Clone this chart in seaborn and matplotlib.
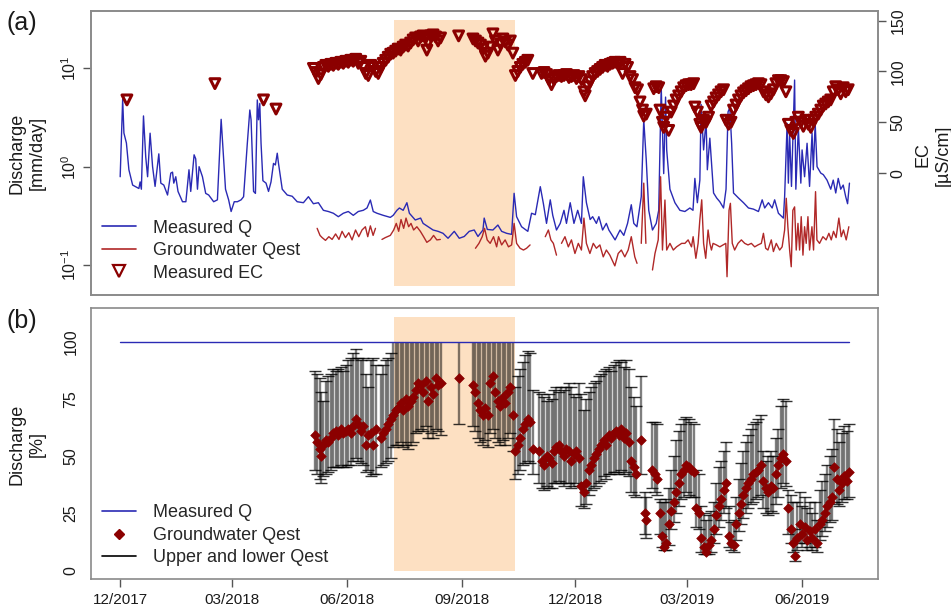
import numpy as np
import pandas as pd
import matplotlib
matplotlib.use("Agg")
import matplotlib.pyplot as plt
from matplotlib.lines import Line2D
from matplotlib.ticker import FixedLocator, NullLocator, LogFormatterSciNotation
import seaborn as sns

# ---------------- data (day 0 = 2017-12-01) ----------------
START = pd.Timestamp("2017-12-01")
tick_dates = ["2017-12-01", "2018-03-01", "2018-06-01", "2018-09-01",
              "2018-12-01", "2019-03-01", "2019-06-01"]
tick_labels = ["12/2017", "03/2018", "06/2018", "09/2018", "12/2018", "03/2019", "06/2019"]
shade_dates = ["2018-07-08", "2018-10-14"]

# Measured discharge Q [mm/day]
q_day = [0, 2, 3, 5, 7, 10, 15, 16, 17, 18.7, 20.5, 22, 24, 26, 28, 31, 32.6, 35, 38, 40.6, 42, 43, 44.6, 46.4, 50,
         52.7, 55.2, 56.6, 59.3, 60.6, 62, 63.3, 66, 68.6, 71, 75, 78, 81, 83, 84.5, 87, 89, 91.5, 94, 97, 99,
         102, 104, 105, 107, 108.5, 110, 111, 112, 113, 114.5, 117, 119, 121, 123, 124.5, 126, 127, 130, 134, 138, 142, 147,
         151, 155, 159, 163, 167, 171, 175, 179, 183, 187, 191, 195, 198, 200.7, 203, 206, 211, 216.7, 219, 222, 224, 227, 230, 232,
         236.7, 241, 243, 247, 251, 255, 259, 263, 268, 272, 276, 280, 284, 287, 291, 292, 294.5, 299, 303, 306, 310, 314, 316,
         318, 322, 327, 330, 333, 337, 339.5, 342, 345, 347, 350, 353, 356, 358, 361, 364, 367, 370, 371.5, 374, 377, 379, 382, 384, 387, 390, 392,
         397, 401, 404, 407, 410, 412, 414.5, 418, 420, 422, 424, 427, 430, 432, 434, 436, 437.5, 438.4, 441, 445,
         449, 453, 457, 459.5, 461, 463, 465, 466, 468, 470, 471, 473, 476, 478.5, 481, 484, 486, 487.6, 489, 490.5, 492, 496,
         500, 504, 508, 512, 515, 517, 520, 523, 525, 528, 532, 533, 535, 536, 537, 538.5, 541, 542, 544, 546, 547, 549, 551, 553, 555, 556, 557.5, 559, 562, 564, 567, 570, 572, 574, 576, 578, 580, 582, 583.5, 585]
q_val = [0.79, 4.85, 2.2, 1.74, 0.93, 0.65, 0.60, 0.70, 0.59, 3.28, 1.26, 0.79, 2.19, 1.0, 0.63, 1.35, 0.68, 0.65, 0.515, 0.86, 0.88, 0.68, 0.79, 0.56, 0.44,
         0.44, 0.93, 0.56, 1.32, 1.2, 0.59, 1.0, 0.79, 0.535, 0.515, 0.44, 0.46, 3.03, 1.17, 0.59, 0.46, 0.35, 0.44, 0.44, 0.46, 0.495,
         1.73, 3.77, 3.0, 0.56, 0.535, 4.77, 3.0, 4.4, 1.73, 0.72, 0.68, 0.56, 0.70, 1.08, 1.04, 1.37, 1.08, 0.59, 0.515, 0.50, 0.44, 0.43,
         0.495, 0.42, 0.43, 0.36, 0.35, 0.336, 0.31, 0.336, 0.35, 0.32, 0.35, 0.36, 0.38, 0.458, 0.35, 0.336, 0.32, 0.305, 0.32, 0.36, 0.38, 0.36, 0.43, 0.336,
         0.287, 0.30, 0.265, 0.245, 0.227, 0.22, 0.21, 0.187, 0.22, 0.187, 0.195, 0.22, 0.227, 0.195, 0.227, 0.30, 0.23, 0.227, 0.255, 0.22, 0.21, 0.205, 0.536,
         0.31, 0.245, 0.22, 0.336, 0.325, 0.626, 0.42, 0.265, 0.46, 0.32, 0.227, 0.265, 0.36, 0.265, 0.43, 0.265, 0.36, 0.265, 0.79, 0.43, 0.29, 0.31, 0.265, 0.31, 0.227, 0.265, 0.227,
         0.18, 0.227, 0.20, 0.265, 0.41, 0.265, 0.245, 0.495, 3.0, 1.17, 0.36, 0.227, 0.265, 0.36, 6.5, 0.85, 5.1, 1.48, 0.59, 0.43,
         0.36, 0.35, 0.38, 0.36, 0.76, 0.43, 0.73, 4.3, 1.48, 2.98, 0.93, 1.95, 0.54, 0.48, 0.44, 0.38, 0.59, 3.6, 4.0, 1.73, 0.54, 0.48,
         0.43, 0.38, 0.37, 0.35, 0.46, 0.38, 0.43, 0.38, 0.46, 0.336, 0.30, 0.495, 2.76, 0.68, 2.2, 0.63, 7.6, 0.59, 2.5, 0.68, 1.48, 0.79, 1.73, 0.63, 2.2, 0.93, 2.76, 1.0, 0.86, 0.83, 0.73, 0.59, 0.73, 0.54, 0.76, 0.59, 0.65, 0.495, 0.42, 0.68]

# Groundwater Qest [mm/day]; NaN marks gaps in the record
gw_day = [158, 160.3, 162, 164.7, 167.4, 170, 172.8, 175.5, 178, 180.7,
          183.4, 186, 188.8, 191.4, 194, 196.7, 198.6, 200.7, 202.9, 204.8, 207,
          210, 212.7, 216.7, 219.4, 221.5, 223.4, 225.3, 227.4, 229.3, 231.4,
          233.3, 235.4, 238, 240.8, 243.4, 246, 248.8, 251.4, 254, 256.8, 260,
          285, 287.8, 290.4, 292.3, 294.4, 296.8, 299.5, 302, 303.5, 306,
          308.8, 311.5, 314, 316, 318, 320.8, 323.5, 326, 328.8, 333,
          341, 343.5, 345.5, 347.5, 350, 352,
          354, 356.8, 359.5, 362, 364.8, 367.5, 370, 372, 374, 376.8,
          379.5, 382, 384.8, 387.5, 390, 392.8, 396.8, 399.5, 402, 404.8,
          407.5, 410, 412.8, 414.6, 416,
          418, 420, 421.7, 424,
          427, 429, 431.6, 433.5, 435, 437, 438.4, 441, 443.7, 446.3,
          450.4, 453, 455.6, 458.3, 459.6, 461.8, 463.6, 465, 466.5, 468,
          469.7, 471.6, 473, 474.3, 475.6, 478.3, 481, 483.6, 485.8, 486.8,
          488.4, 489.5, 491, 492.9, 495.6, 498.3, 501, 503.6, 506.3, 509,
          511.6, 514.3, 516, 517.8, 519.6, 522.3, 524, 526.3, 529, 531,
          533, 534.3, 535.6, 537, 538.3, 539.6, 541, 542.3, 543.7, 545,
          546.3, 547.7, 549, 550.3, 551.7, 553, 554.9, 556.2, 557.8, 558.9,
          561, 563.7, 566.3, 568.5, 570.4, 572.2, 574.3, 576.5, 578.4, 580.2,
          582.4, 584.5]
gw_val = [0.236, 0.20, 0.19, 0.178, 0.194, 0.182, 0.207, 0.182, 0.22, 0.19,
          0.213, 0.18, 0.227, 0.194, 0.227, 0.245, 0.194, 0.25, 0.20, 0.236, np.nan,
          0.182, 0.19, 0.20, 0.227, 0.265, 0.22, 0.29, 0.236, 0.30, 0.245,
          0.265, 0.227, 0.245, 0.22, 0.194, 0.17, 0.18, 0.20, 0.18, 0.182, np.nan,
          0.148, 0.166, 0.194, 0.236, 0.18, 0.166, 0.194, 0.153, 0.194, 0.16,
          0.18, 0.153, 0.16, 0.265, 0.166, 0.148, 0.142, 0.148, 0.16, np.nan,
          0.194, 0.227, 0.18, 0.166, 0.126, np.nan,
          0.166, 0.194, 0.153, 0.18, 0.131, 0.166, 0.142, 0.30, 0.166, 0.131,
          0.166, 0.148, 0.16, 0.121, 0.142, 0.126, 0.098, 0.131, 0.142, 0.121,
          0.142, 0.194, 0.121, 0.104, np.nan,
          0.166, 0.68, 0.166, np.nan,
          0.089, 0.131, 0.18, 0.79, 0.142, 0.458, 0.142, 0.166, 0.142, 0.153,
          0.166, 0.166, 0.18, 0.153, 0.194, 0.117, 0.166, 0.29, 0.46, 0.166,
          0.117, 0.227, 0.166, 0.142, 0.166, 0.16, 0.153, 0.16, 0.166, 0.076,
          0.36, 0.424, 0.166, 0.142, 0.166, 0.18, 0.166, 0.16, 0.166, 0.153,
          0.16, 0.166, 0.21, 0.148, 0.142, 0.18, 0.137, 0.166, 0.142, 0.153,
          0.227, 0.477, 0.245, 0.142, 0.096, 0.36, 0.39, 0.142, 0.265, 0.142,
          0.31, 0.126, 0.245, 0.166, 0.31, 0.142, 0.245, 0.142, 0.557, 0.18,
          0.166, 0.194, 0.18, 0.21, 0.18, 0.22, 0.19, 0.30, 0.194, 0.227,
          0.18, 0.245]

# Measured EC [uS/cm]
ec_day = [5.4, 76, 115, 125,
          155, 157, 159, 161, 163, 165, 167, 169, 171, 173,
          175, 177, 179, 181, 183, 185, 187, 189, 191, 193,
          195, 197, 199, 201, 203, 205, 207, 209, 211, 213,
          215, 217, 219, 221, 223, 225, 227, 229, 231, 233,
          235, 237, 239, 241, 243, 245, 246, 247, 249, 251,
          253, 255, 257, 271.5,
          283, 285, 287, 289, 291, 293, 295, 297, 299, 301,
          303, 305, 307, 309, 311, 313, 315, 317, 319, 321,
          323, 325, 327, 331,
          338, 340, 342, 344, 346, 348, 350, 352, 354, 356,
          358, 360, 362, 364, 366, 368, 370, 372, 373, 375,
          377, 379, 381, 383, 385, 387, 389, 391, 393, 395,
          397, 399, 401, 403, 405, 407, 409, 411, 413, 415,
          417, 419, 420, 422,
          428, 430, 432, 433, 435, 436, 438, 440, 442, 444,
          446, 448, 450, 452, 454, 456, 458, 460, 461, 463,
          465, 466, 468, 470, 472, 474, 476, 478, 480, 482,
          484, 486, 488, 490, 492, 494, 496, 498, 500, 502,
          504, 506, 508, 510, 512, 514, 516, 518, 520, 522,
          524, 526, 528, 530, 532, 534, 536, 538, 540, 542,
          544, 546, 548, 550, 552, 554, 556, 558, 560, 562,
          564, 566, 568, 570, 572, 574, 576, 578, 580, 582, 584]
ec_val = [72, 88, 72, 63,
          103, 99, 93, 97, 104, 106, 105, 107, 106, 108,
          107, 109, 108, 110, 109, 111, 110, 112, 108, 110,
          104, 98, 96, 106, 104, 100, 98, 104, 108, 111,
          114, 117, 118, 120, 122, 121, 124, 126, 125, 128,
          131, 133, 130, 134, 135, 133, 121, 128, 135, 136,
          134, 130, 133, 135,
          132, 130, 128, 126, 122, 115, 118, 124, 137, 130,
          121, 127, 132, 129, 126, 130, 118, 96, 100, 104,
          107, 109, 111, 98,
          98, 99, 97, 92, 87, 92, 95, 96, 95, 96,
          97, 94, 95, 96, 93, 95, 92, 80, 76, 85,
          90, 95, 98, 100, 102, 104, 106, 105, 107, 108,
          109, 108, 109, 98, 107, 104, 95, 92, 84, 82,
          70, 62, 56, 58,
          83, 85, 84, 62, 50, 45, 55, 42, 60, 66,
          72, 76, 80, 84, 86, 87, 87, 88, 65, 60,
          48, 45, 52, 50, 55, 66, 70, 74, 77, 80,
          82, 52, 48, 50, 62, 67, 72, 76, 79, 81,
          83, 85, 86, 87, 88, 87, 80, 77, 75, 78,
          82, 88, 91, 91, 90, 80, 48, 42, 39, 50,
          55, 50, 46, 52, 48, 45, 52, 55, 58, 62,
          66, 68, 70, 72, 80, 85, 82, 78, 84, 80, 82]

# Panel (b): groundwater share of discharge [%] with lower / upper estimate
b_day = [156, 158, 160, 161, 163, 165, 167, 169, 171, 173,
         175, 177, 179, 181, 183, 185, 187, 189, 191, 193,
         195, 197, 199, 201, 203, 205,
         209, 211, 213, 215, 217, 219, 221, 223, 225, 227,
         229, 231, 233, 235, 237, 239, 241, 243, 245, 247,
         249, 251, 253, 255, 257, 272,
         283, 285, 287, 289, 291, 293, 295, 297, 299, 301,
         303, 305, 307, 309, 311, 313, 315, 317, 319, 321,
         323, 325, 327, 329, 331,
         336, 338, 340, 342, 344, 346, 348, 350, 352, 354,
         356, 358, 360, 362, 364, 366, 368, 370, 372, 374,
         376, 378, 380, 382, 384, 386, 388, 390, 392, 394,
         396, 398, 400, 402, 404, 406, 408, 410, 412, 414,
         418, 421, 422,
         427, 429, 431, 433, 435, 436, 438, 440, 442, 444,
         446, 448, 450, 452, 454, 456, 458, 460, 462, 464,
         466, 468, 470, 472, 474, 476, 478, 480, 482, 484,
         486, 488, 490, 492, 494, 496, 498, 500, 502, 504,
         506, 508, 510, 512, 514, 516, 518, 520, 522, 524,
         526, 528, 530, 532, 534, 536, 538, 540, 541, 543,
         545, 547, 549, 551, 553, 555, 557, 559, 561, 563,
         565, 567, 569, 571, 573, 575, 577, 579, 581, 583, 585]
b_pct = [59, 56, 53, 50, 55, 57, 56, 58, 60, 61,
         59, 62, 60, 61, 62, 60, 63, 66, 64, 61,
         63, 55, 59, 60, 55, 62,
         58, 60, 62, 64, 66, 68, 70, 71, 73, 70,
         75, 72, 74, 76, 79, 82, 81, 78, 83, 74,
         80, 77, 84, 81, 82, 84,
         81, 78, 73, 70, 68, 71, 68, 82, 85, 78,
         74, 72, 76, 73, 78, 80, 68, 52, 55, 58,
         62, 64, 66, 65, 53,
         52, 48, 46, 50, 49, 47, 52, 54, 55, 52,
         50, 53, 52, 48, 51, 52, 49, 37, 34, 38,
         44, 46, 49, 51, 53, 55, 57, 55, 59, 58,
         60, 61, 59, 62, 58, 60, 56, 48, 45, 42,
         57, 25, 22,
         44, 42, 40, 25, 15, 10, 12, 20, 26, 30,
         34, 38, 42, 44, 46, 45, 44, 43, 27, 25,
         14, 10, 8, 11, 13, 18, 24, 28, 31, 35,
         38, 15, 12, 11, 20, 25, 29, 33, 36, 38,
         40, 42, 43, 44, 46, 39, 36, 34, 37, 36,
         42, 46, 49, 51, 48, 27, 18, 12, 6, 14,
         20, 16, 19, 13, 17, 14, 18, 12, 20, 22,
         25, 28, 30, 32, 45, 40, 35, 38, 41, 39, 43]
b_lo = [44, 42, 40, 38, 41, 42, 43, 44, 45, 45,
        45, 46, 45, 45, 46, 46, 48, 49, 48, 47,
        46, 43, 44, 41, 42, 42,
        45, 46, 47, 48, 49, 54, 55, 55, 56, 54,
        55, 53, 55, 56, 60, 61, 62, 61, 63, 58,
        60, 58, 62, 61, 59, 64,
        63, 61, 58, 56, 55, 57, 54, 60, 62, 58,
        56, 55, 57, 55, 58, 60, 52, 40, 42, 44,
        46, 47, 48, 47, 42,
        38, 36, 35, 37, 36, 36, 38, 38, 39, 38,
        37, 38, 38, 36, 37, 38, 37, 28, 27, 29,
        33, 35, 36, 37, 38, 39, 41, 40, 42, 42,
        43, 43, 42, 44, 42, 43, 41, 34, 33, 32,
        42, 16, 14,
        36, 34, 33, 16, 10, 9, 9, 11, 18, 21,
        25, 28, 31, 32, 34, 33, 32, 32, 19, 18,
        8, 7, 7, 7, 8, 12, 16, 19, 22, 25,
        27, 10, 9, 8, 13, 17, 20, 23, 25, 27,
        29, 30, 31, 32, 33, 27, 25, 24, 26, 25,
        29, 32, 36, 38, 37, 16, 12, 8, 4, 9,
        12, 10, 12, 9, 10, 9, 10, 8, 13, 15,
        17, 19, 21, 22, 30, 29, 28, 30, 31, 31, 32]
b_hi = [87, 86, 84, 78, 74, 83, 85, 86, 88, 87,
        88, 89, 87, 90, 92, 93, 95, 97, 93, 92,
        93, 86, 80, 92, 93, 90,
        86, 90, 92, 93, 95, 100, 100, 100, 100, 100,
        100, 100, 100, 100, 100, 100, 100, 100, 100, 100,
        100, 100, 100, 100, 100, 100,
        100, 100, 100, 100, 100, 100, 100, 100, 100, 100,
        100, 100, 100, 100, 100, 100, 100, 80, 85, 88,
        91, 94, 96, 95, 79,
        78, 77, 76, 74, 77, 75, 79, 80, 78, 80,
        79, 80, 82, 80, 77, 76, 82, 77, 70, 75,
        78, 80, 82, 83, 85, 86, 87, 88, 89, 87,
        90, 91, 92, 91, 89, 92, 88, 80, 76, 72,
        85, 34, 32,
        65, 65, 64, 31, 30, 30, 31, 36, 44, 50,
        57, 61, 64, 66, 67, 66, 65, 64, 44, 42,
        28, 25, 22, 24, 26, 30, 38, 45, 48, 52,
        56, 28, 21, 22, 32, 40, 47, 52, 56, 59,
        62, 64, 65, 66, 68, 52, 48, 50, 52, 50,
        58, 62, 72, 75, 74, 35, 33, 30, 18, 30,
        34, 28, 32, 27, 30, 25, 30, 22, 35, 39,
        42, 46, 50, 53, 66, 62, 56, 60, 63, 61, 64]
measured_q_pct = 100

for a, b in [(q_day, q_val), (gw_day, gw_val), (ec_day, ec_val), (b_day, b_pct), (b_day, b_lo), (b_day, b_hi)]:
    assert len(a) == len(b), (len(a), len(b))

# ---------------- style ----------------
BLUE = "#2a2ab4"
RED = "#b02828"
DARKRED = "#8b0000"
SHADE = "#fde0c2"
FRAME = "#8a8a8a"
TXT = "#1a1a1a"

sns.set_style("white")
plt.rcParams["font.family"] = ["Liberation Sans", "DejaVu Sans"]
plt.rcParams["mathtext.fontset"] = "custom"
plt.rcParams["mathtext.rm"] = "Liberation Sans"
plt.rcParams["mathtext.it"] = "Liberation Sans:italic"
plt.rcParams["mathtext.bf"] = "Liberation Sans:bold"

tick_days = [(pd.Timestamp(d) - START).days for d in tick_dates]
shade_lo, shade_hi = [(pd.Timestamp(d) - START).days for d in shade_dates]

fig = plt.figure(figsize=(9.51, 6.08), dpi=100)
ax_a = fig.add_axes([91 / 951, 1 - 295 / 608, 787 / 951, 284 / 608])
ax_b = fig.add_axes([91 / 951, 1 - 579 / 608, 787 / 951, 271 / 608])
ax_ec = ax_a.twinx()

XLIM = (-23.4, 607.9)

# ---------------- panel (a) ----------------
ax_a.axvspan(shade_lo + 0.5, shade_hi, ymin=0.032, ymax=0.968, color=SHADE, lw=0, zorder=0)
sns.lineplot(x=q_day, y=q_val, ax=ax_a, color=BLUE, lw=1.0, estimator=None, sort=False, legend=False)

gw = pd.DataFrame({"day": gw_day, "val": gw_val})
gw["seg"] = gw["val"].isna().cumsum()
gw = gw.dropna()
sns.lineplot(data=gw, x="day", y="val", units="seg", estimator=None, ax=ax_a,
             color=RED, lw=1.0, sort=False, legend=False)

ax_a.set_yscale("log")
ax_a.set_ylim(10 ** -1.305, 10 ** 1.583)
ax_a.set_xlim(*XLIM)
ax_a.yaxis.set_major_locator(FixedLocator([0.1, 1, 10]))
ax_a.yaxis.set_major_formatter(LogFormatterSciNotation())
ax_a.yaxis.set_minor_locator(NullLocator())
ax_a.tick_params(axis="x", bottom=False, labelbottom=False)
ax_a.set_xlabel("")
ax_a.set_ylabel("")

sns.scatterplot(x=ec_day, y=ec_val, ax=ax_ec, marker="v", s=50, color=DARKRED, legend=False, zorder=3)
coll = ax_ec.collections[-1]
coll.set_facecolor("none")
coll.set_edgecolor(DARKRED)
coll.set_linewidth(2.2)
ax_ec.set_ylim(-120, 159.5)
ax_ec.set_xlim(*XLIM)
ax_ec.yaxis.set_major_locator(FixedLocator([0, 50, 100, 150]))
ax_ec.set_ylabel("")
ax_ec.grid(False)

handles_a = [Line2D([], [], color=BLUE, lw=1.2),
             Line2D([], [], color=RED, lw=1.2),
             Line2D([], [], ls="none", marker="v", mfc="none", mec=DARKRED, mew=1.6, ms=8)]
ax_a.legend(handles_a, ["Measured Q", "Groundwater Qest", "Measured EC"], loc="lower left",
            bbox_to_anchor=(0.014, 0.047), frameon=False, fontsize=13, handlelength=1.9,
            handletextpad=0.9, labelspacing=0.3, borderaxespad=0, borderpad=0)

# ---------------- panel (b) ----------------
ax_b.axvspan(shade_lo + 0.5, shade_hi, ymin=0.031, ymax=0.967, color=SHADE, lw=0, zorder=0)
bd = np.array(b_day, dtype=float)
blo = np.array(b_lo, dtype=float)
bhi = np.array(b_hi, dtype=float)
ax_b.vlines(bd, blo, bhi, colors="black", alpha=0.5, lw=1.7, zorder=2)
ax_b.scatter(bd, blo, marker="_", s=85, color="black", alpha=0.8, linewidths=1.0, zorder=2)
top = bhi < measured_q_pct
ax_b.scatter(bd[top], bhi[top], marker="_", s=85, color="black", alpha=0.8, linewidths=1.0, zorder=2)
sns.lineplot(x=[q_day[0], 584.5], y=[measured_q_pct, measured_q_pct], ax=ax_b, color=BLUE, lw=1.0,
             estimator=None, legend=False, zorder=3)
sns.scatterplot(x=b_day, y=b_pct, ax=ax_b, marker="D", s=24, color=DARKRED, edgecolor=DARKRED,
                linewidth=0.5, legend=False, zorder=4)
ax_b.set_xlim(*XLIM)
ax_b.set_ylim(-3.9, 114.8)
ax_b.yaxis.set_major_locator(FixedLocator([0, 25, 50, 75, 100]))
ax_b.set_xticks(tick_days)
ax_b.set_xticklabels(tick_labels)
ax_b.set_xlabel("")
ax_b.set_ylabel("")

handles_b = [Line2D([], [], color=BLUE, lw=1.2),
             Line2D([], [], ls="none", marker="D", ms=5, color=DARKRED),
             Line2D([], [], color="black", lw=1.2)]
ax_b.legend(handles_b, ["Measured Q", "Groundwater Qest", "Upper and lower Qest"], loc="lower left",
            bbox_to_anchor=(0.014, 0.047), frameon=False, fontsize=13, handlelength=1.9,
            handletextpad=0.9, labelspacing=0.3, borderaxespad=0, borderpad=0)

# ---------------- axes cosmetics ----------------
for ax in (ax_a, ax_b, ax_ec):
    for sp in ax.spines.values():
        sp.set_visible(True)
        sp.set_color(FRAME)
        sp.set_linewidth(1.2)
    ax.tick_params(axis="both", direction="out", length=6, width=1, color="#555555",
                   labelsize=11.5, labelcolor=TXT, pad=3)
ax_a.tick_params(axis="x", bottom=False, labelbottom=False)
ax_ec.tick_params(axis="x", bottom=False, labelbottom=False, top=False)
ax_ec.tick_params(axis="y", left=False, right=True, labelleft=False, labelright=True)
ax_b.tick_params(axis="x", bottom=True, pad=4, labelsize=11)

for ax in (ax_a, ax_b):
    for lab in ax.get_yticklabels():
        lab.set_rotation(90)
        lab.set_va("center")
        lab.set_ha("right")
for lab in ax_ec.get_yticklabels():
    lab.set_rotation(90)
    lab.set_va("center")
    lab.set_ha("left")

fig.text(27 / 951, 1 - 153 / 608, "Discharge\n[mm/day]", rotation=90, ha="center", va="center",
         fontsize=13, linespacing=1.3, multialignment="center", color=TXT)
fig.text(933 / 951, 1 - 155 / 608, "EC\n[µS/cm]", rotation=90, ha="center", va="center",
         fontsize=13, linespacing=1.3, multialignment="center", color=TXT)
fig.text(27 / 951, 1 - 444 / 608, "Discharge\n[%]", rotation=90, ha="center", va="center",
         fontsize=13, linespacing=1.3, multialignment="center", color=TXT)
fig.text(6 / 951, 1 - 23 / 608, "(a)", fontsize=18, ha="left", va="center", color=TXT)
fig.text(6 / 951, 1 - 321 / 608, "(b)", fontsize=18, ha="left", va="center", color=TXT)

fig.savefig("out.png", dpi=100)
